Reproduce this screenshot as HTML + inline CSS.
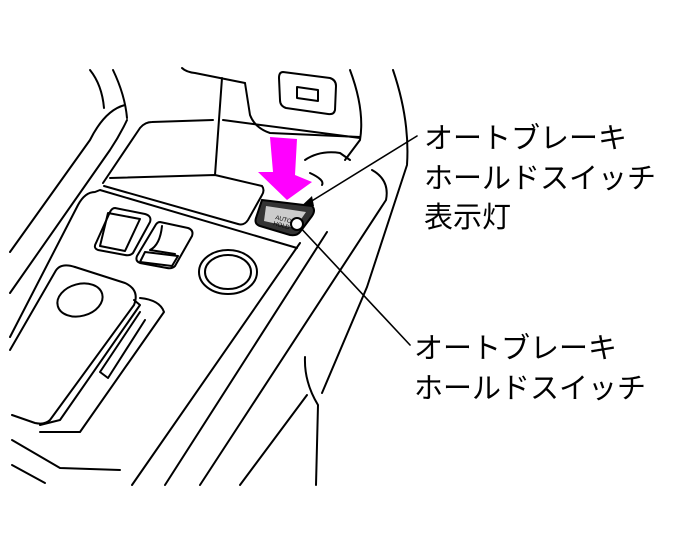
<!DOCTYPE html>
<html><head><meta charset="utf-8"><style>
html,body{margin:0;padding:0;background:#fff;}
svg{display:block;}
text{font-family:"Liberation Sans","Noto Sans CJK JP",sans-serif;font-size:29px;fill:#000;}
</style></head><body>
<svg width="686" height="556" viewBox="0 0 686 556" xmlns="http://www.w3.org/2000/svg">
<g fill="none" stroke="#000" stroke-width="2" stroke-linecap="round" stroke-linejoin="round">
<!-- top left curves -->
<path d="M90,70 Q102,85 104,108"/>
<path d="M113,70 Q125,95 127,118"/>
<path d="M125,105 Q105,110 90,140 L10,252"/>
<path d="M127,120 Q120,135 110,150 L10,293"/>
<!-- top bin area -->
<path d="M182,68 Q186,72 195,73 L245,83"/>
<path d="M222,78 L215,175"/>
<path d="M110,178 L215,175 L262,186 Q265,190 262,195 L248,220 Q244,226 238,224 L104,186"/>
<path d="M103,183 L140,128 Q145,122 152,122 L213,120"/>
<path d="M223,120 L360,138"/>
<path d="M245,83 L250,115 Q255,128 270,133 L360,137"/>
<path d="M283,72 L330,78 Q336,80 336,86 L335,110 Q334,115 328,114 L286,108 Q280,106 280,100 L279,78 Q279,72 283,72Z"/>
<path d="M297,87 L318,90 L318,101 L297,98Z"/>
<path d="M350,70 Q365,110 360,140 L345,160"/>
<path d="M393,70 Q410,120 407,165 L367,287 L322,393"/>
<path d="M305,160 Q320,150 340,153 L350,160"/>
<path d="M310,173 Q325,180 322,185"/>
<!-- right column -->
<path d="M372,170 Q390,180 386,200 L200,485"/>
<path d="M300,243 L132,485"/>
<path d="M327,232 L165,485"/>
<path d="M305,357 Q304,382 318,405 L316,485"/>
<path d="M307,395 L240,485"/>
<!-- panel -->
<path d="M10,337 L78,205 Q85,192 95,192 L100,190 L297,248"/>
<!-- window switches -->
<path d="M115,208 L145,214 Q152,216 150,222 L133,253 Q130,256 125,255 L98,250 Q93,248 96,243 L110,212 Q112,208 115,208Z"/>
<path d="M108,213 L140,219 L125,251 L100,246Z"/>
<path d="M160,222 L188,228 Q194,230 192,236 L175,266 Q172,269 167,268 L140,263 Q135,261 137,256 L155,226 Q157,222 160,222Z"/>
<path d="M162,226 Q160,245 150,250 L175,254"/>
<path d="M145,252 L178,256 L172,266 L140,262Z"/>
<!-- knob -->
<ellipse cx="228" cy="272" rx="29" ry="22"/>
<ellipse cx="228" cy="272" rx="23" ry="17"/>
<!-- shifter block -->
<path d="M75,267 L125,283 Q140,290 134,305 L50,420 Q45,425 35,423 L12,415"/>
<path d="M134,300 L140,305 L60,420 L40,425"/>
<path d="M140,298 Q160,300 164,312 L80,432 L40,432"/>
<path d="M75,267 Q60,262 55,272 L10,350"/>
<ellipse cx="80" cy="300" rx="23" ry="16" transform="rotate(-15 80 300)"/>
<path d="M140,312 L100,372 L108,378 L145,320"/>
<path d="M12,440 L60,468 L120,470"/>
<path d="M12,465 L45,483"/>
<!-- leader lines -->
<path d="M417,136 L302,207" stroke-width="1.6"/>
<path d="M297,224 L410,345" stroke-width="1.6"/>
</g>
<!-- arrowhead on leader -->
<polygon points="296,211 312,196 314,206" fill="#000"/>
<!-- switch -->
<path d="M262,200 L312,206 Q316,210 312,216 L300,232 Q297,236 290,235 L260,226 Q254,224 256,218 Z" fill="#333" stroke="#000" stroke-width="2"/>
<path d="M266,206 L306,212 L295,228 L264,221 Z" fill="#ccc"/>
<text x="0" y="0" style="font-size:6px" transform="translate(275,219) rotate(15)">AUTO</text>
<text x="0" y="0" style="font-size:6px" transform="translate(273,225) rotate(15)">HOLD</text>
<circle cx="297" cy="224" r="6" fill="#fff" stroke="#000" stroke-width="2"/>
<!-- magenta arrow -->
<polygon points="270,137 297,139 295,175 312,182 287,200 258,172 273,172" fill="#ff00ff"/>
<!-- labels -->
<text x="424" y="148">オートブレーキ</text>
<text x="424" y="188">ホールドスイッチ</text>
<text x="424" y="227">表示灯</text>
<text x="414" y="358">オートブレーキ</text>
<text x="414" y="398">ホールドスイッチ</text>
</svg>
</body></html>
